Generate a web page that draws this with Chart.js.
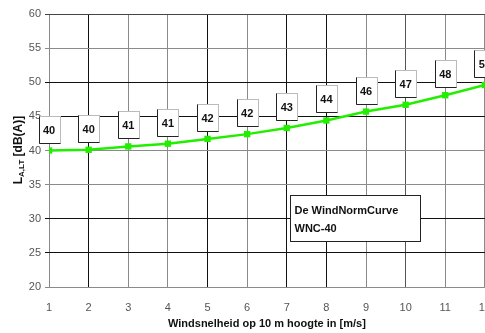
<!DOCTYPE html>
<html>
<head>
<meta charset="utf-8">
<script src="https://cdn.jsdelivr.net/npm/chart.js@4/dist/chart.umd.min.js"></script>
<style>
html,body{margin:0;padding:0;background:#fff;overflow:hidden;width:485px;height:333px;}
#wrap{position:absolute;left:0;top:0;width:505px;height:333px;}
</style>
</head>
<body>
<div id="wrap"><canvas id="c" width="505" height="333"></canvas></div>
<script>
const windSpeeds = [1,2,3,4,5,6,7,8,9,10,11,12];
const wncValues = [40.0, 40.1, 40.6, 41.0, 41.7, 42.4, 43.3, 44.4, 45.7, 46.7, 48.1, 49.6];
const pointLabels = ['40','40','41','41','42','42','43','44','46','47','48','50'];
const yTicks = [20,25,30,35,40,45,50,55,60];
const legendLines = ['De WindNormCurve','WNC-40'];
const xTitle = 'Windsnelheid op 10 m hoogte in [m/s]';

const darkX = [2,5,7,8];
const midX = [10];
const darkY = [50,45,30,25];
const midY = [60];

const labelPlugin = {
  id: 'labels',
  afterDatasetsDraw(chart) {
    const ctx = chart.ctx;
    const meta = chart.getDatasetMeta(0);
    ctx.save();
    ctx.font = 'bold 11px "Liberation Sans", Arial, sans-serif';
    ctx.textAlign = 'center';
    ctx.textBaseline = 'middle';
    meta.data.forEach((pt, i) => {
      const w = 21, h = 27;
      const x = Math.round(pt.x - w/2), y = Math.round(pt.y - 8 - h);
      ctx.fillStyle = '#fff';
      ctx.fillRect(x, y, w, h);
      ctx.strokeStyle = '#bbb';
      ctx.lineWidth = 1;
      ctx.strokeRect(x+0.5, y+0.5, w, h);
      ctx.strokeStyle = '#222';
      ctx.beginPath();
      ctx.moveTo(x+0.5, y+0.5); ctx.lineTo(x+0.5, y+h+0.5); ctx.lineTo(x+w+0.5, y+h+0.5);
      ctx.stroke();
      ctx.fillStyle = '#111';
      ctx.fillText(pointLabels[i], pt.x, y + h/2 + 1);
    });
    // annotation box
    const xs = chart.scales.x, ys = chart.scales.y;
    const l = Math.round(xs.getPixelForValue(7.07)) + 0.5, r = Math.round(xs.getPixelForValue(10.37)) + 0.5;
    const t = Math.round(ys.getPixelForValue(33.5)) + 0.5, b = Math.round(ys.getPixelForValue(26.8)) + 0.5;
    ctx.fillStyle = '#fff';
    ctx.fillRect(l, t, r-l, b-t);
    ctx.strokeStyle = '#222';
    ctx.lineWidth = 1;
    ctx.strokeRect(l, t, r-l, b-t);
    ctx.fillStyle = '#111';
    ctx.textAlign = 'left';
    ctx.font = 'bold 11px "Liberation Sans", Arial, sans-serif';
    ctx.fillText(legendLines[0], l + 4, t + 15);
    ctx.fillText(legendLines[1], l + 4, t + 33);
    // y axis title with subscript
    ctx.translate(18, 150);
    ctx.rotate(-Math.PI/2);
    const f1 = 'bold 12px "Liberation Sans", Arial, sans-serif';
    const f2 = 'bold 8px "Liberation Sans", Arial, sans-serif';
    ctx.font = f1; const w1 = ctx.measureText('L').width;
    ctx.font = f2; const w2 = ctx.measureText('A,LT').width;
    ctx.font = f1; const w3 = ctx.measureText(' [dB(A)]').width;
    let sx = -(w1+w2+w3)/2;
    ctx.textBaseline = 'alphabetic';
    ctx.font = f1; ctx.fillText('L', sx, 4); sx += w1;
    ctx.font = f2; ctx.fillText('A,LT', sx, 6); sx += w2;
    ctx.font = f1; ctx.fillText(' [dB(A)]', sx, 4);
    ctx.restore();
  }
};

new Chart(document.getElementById('c'), {
  type: 'line',
  data: {
    labels: windSpeeds,
    datasets: [{
      data: windSpeeds.map((x, i) => ({x: x, y: wncValues[i]})),
      borderColor: '#22ee00',
      backgroundColor: '#22ee00',
      borderWidth: 2.5,
      pointStyle: 'rect',
      pointRadius: 4.5,
      pointBorderWidth: 0,
      tension: 0
    }]
  },
  options: {
    responsive: false,
    animation: false,
    devicePixelRatio: 1,
    layout: {padding: {top: 14, left: 0, right: 0, bottom: 0}},
    plugins: {legend: {display: false}, tooltip: {enabled: false}},
    scales: {
      x: {
        type: 'linear', min: 1, max: 12,
        afterFit: s => { s.height = 46; },
        afterBuildTicks: s => { s.ticks = windSpeeds.map(v => ({value: v})); },
        grid: {
          drawTicks: false,
          color: c => darkX.includes(c.tick && c.tick.value) ? '#111' : (midX.includes(c.tick && c.tick.value) ? '#555' : '#8a8a8a'),
          lineWidth: 1
        },
        border: {display: false},
        ticks: {padding: 14, color: '#555', font: {family: '"Liberation Sans", Arial, sans-serif', size: 11}, maxRotation: 0},
        title: {display: true, text: xTitle, color: '#111', font: {family: '"Liberation Sans", Arial, sans-serif', size: 11, weight: 'bold'}, padding: {top: 0, bottom: 2}}
      },
      y: {
        min: 20, max: 60,
        afterFit: s => { s.width = 49; },
        afterBuildTicks: s => { s.ticks = yTicks.map(v => ({value: v})); },
        grid: {
          tickLength: 4,
          color: c => darkY.includes(c.tick && c.tick.value) ? '#111' : (midY.includes(c.tick && c.tick.value) ? '#444' : '#8a8a8a'),
          lineWidth: 1
        },
        border: {display: false},
        ticks: {padding: 4, color: '#555', font: {family: '"Liberation Sans", Arial, sans-serif', size: 11}}
      }
    }
  },
  plugins: [labelPlugin]
});
</script>
</body>
</html>
